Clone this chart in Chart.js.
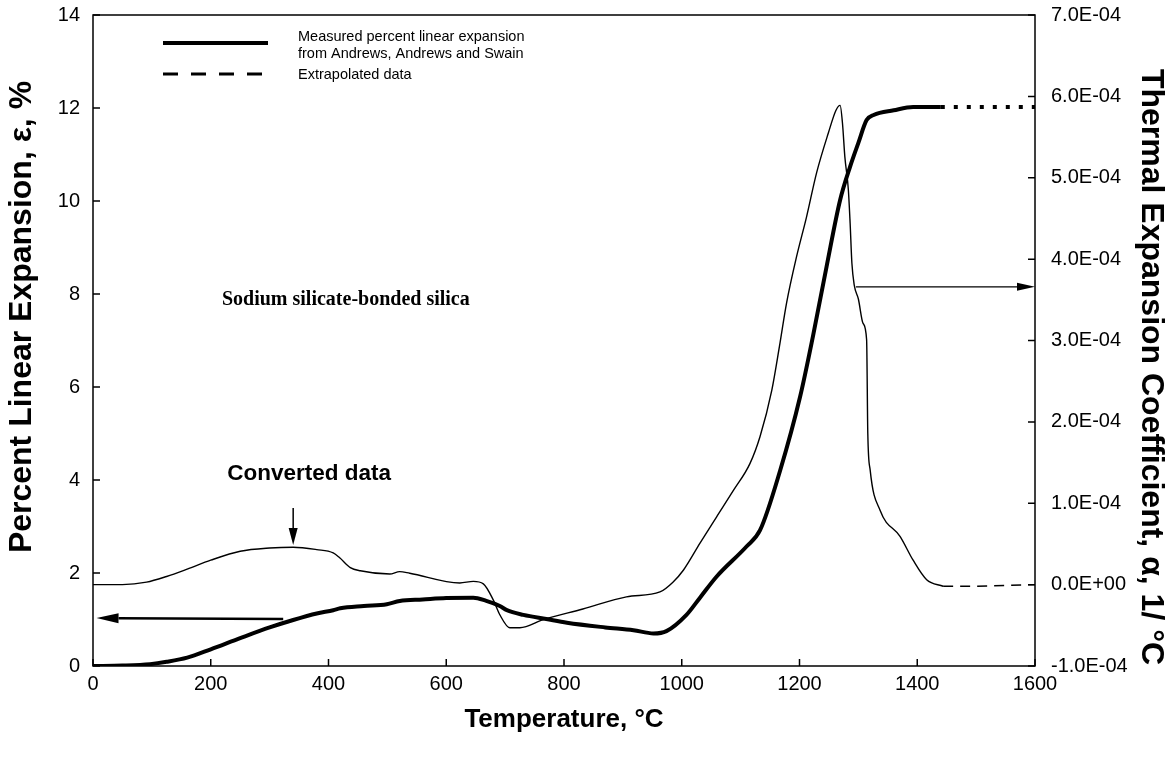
<!DOCTYPE html>
<html>
<head>
<meta charset="utf-8">
<title>Sodium silicate-bonded silica</title>
<script src="https://cdn.jsdelivr.net/npm/chart.js@4.4.1/dist/chart.umd.min.js"></script>
<style>
  html, body { margin: 0; padding: 0; background: #fff; }
  canvas { display: block; }
</style>
</head>
<body>
<canvas id="grafico" width="1172" height="763"></canvas>
<script>
// Expansión lineal medida (Andrews, Andrews y Swain), eje izquierdo en %
const tempMedida = [0, 50, 97, 125, 160, 200, 250, 300, 340, 380, 408, 420, 460, 499, 521, 560, 600, 646, 668, 691, 703, 731, 770, 805, 870, 918, 952, 974, 1008, 1031, 1059, 1110, 1133, 1167, 1201, 1223, 1246, 1269, 1286, 1300, 1314, 1326, 1360, 1393, 1440];
const expansionMedida = [0, 0.01, 0.04, 0.09, 0.18, 0.36, 0.60, 0.83, 0.99, 1.13, 1.20, 1.24, 1.29, 1.33, 1.40, 1.43, 1.46, 1.47, 1.40, 1.29, 1.20, 1.10, 1.01, 0.93, 0.83, 0.77, 0.70, 0.75, 1.10, 1.47, 1.92, 2.57, 2.92, 4.20, 5.79, 7.10, 8.59, 10.02, 10.74, 11.25, 11.74, 11.85, 11.95, 12.02, 12.02];

// Expansión extrapolada
const tempExtrapolada = [1440, 1600];
const expansionExtrapolada = [12.02, 12.02];

// Coeficiente de expansión térmica convertido, eje derecho (valores en unidades de 1E-04 1/°C)
const tempAlfa = [0, 50, 91, 125, 160, 200, 250, 300, 340, 380, 408, 419, 437, 454, 504, 521, 538, 623, 646, 663, 680, 691, 708, 725, 765, 832, 906, 963, 985, 1003, 1031, 1059, 1088, 1116, 1133, 1153, 1166, 1178, 1195, 1212, 1229, 1249, 1262, 1269, 1273, 1277, 1283, 1286, 1289, 1293, 1300, 1308, 1314, 1316, 1320, 1337, 1371, 1393, 1416, 1444];
const alfaE4 = [0, 0, 0.03, 0.10, 0.19, 0.30, 0.41, 0.45, 0.46, 0.43, 0.39, 0.33, 0.21, 0.17, 0.13, 0.16, 0.14, 0.02, 0.04, 0.01, -0.19, -0.37, -0.53, -0.53, -0.43, -0.30, -0.15, -0.09, 0.03, 0.18, 0.51, 0.83, 1.16, 1.49, 1.82, 2.39, 2.93, 3.46, 4.03, 4.52, 5.06, 5.55, 5.83, 5.89, 5.67, 5.26, 4.85, 4.44, 3.95, 3.68, 3.51, 3.21, 3.01, 1.86, 1.41, 0.91, 0.59, 0.30, 0.06, -0.02];

// Coeficiente extrapolado
const tempAlfaExtrapolada = [1444, 1500, 1550, 1600];
const alfaExtrapoladaE4 = [-0.02, -0.02, -0.01, 0.00];

// Marcas de los ejes
const ticksTemperatura = [0, 200, 400, 600, 800, 1000, 1200, 1400, 1600];
const ticksExpansion = [0, 2, 4, 6, 8, 10, 12, 14];
const ticksAlfa = [-1e-4, 0, 1e-4, 2e-4, 3e-4, 4e-4, 5e-4, 6e-4, 7e-4];
const etiquetasAlfa = ['-1.0E-04', '0.0E+00', '1.0E-04', '2.0E-04', '3.0E-04', '4.0E-04', '5.0E-04', '6.0E-04', '7.0E-04'];

const puntos = (xs, ys, factor = 1) => xs.map((t, i) => ({ x: t, y: ys[i] * factor }));

// Flechas y textos, en coordenadas de datos
const flechas = [
  { eje: 'y', desde: [323, 1.01], hasta: [6, 1.03], grosor: 2.5, punta: 22, ancho: 5 },
  { eje: 'y2', desde: [1296, 3.66e-4], hasta: [1600, 3.66e-4], grosor: 1.2, punta: 18, ancho: 4 },
  { eje: 'y', desde: [340, 3.40], hasta: [340, 2.60], grosor: 1.5, punta: 17, ancho: 4.5 }
];

const textos = [
  { texto: 'Converted data', x: 367, y: 4.13, font: 'bold 22.5px "Liberation Sans", Arial, sans-serif', align: 'center' },
  { texto: 'Sodium silicate-bonded silica', x: 219, y: 7.87, font: 'bold 20px "Liberation Serif", "Times New Roman", serif', align: 'left' }
];

const fuente = '"Liberation Sans", Arial, Helvetica, sans-serif';
Chart.defaults.font.family = fuente;
Chart.defaults.color = '#000';

function dibujarFlecha(ctx, escalaX, escalaY, f) {
  const x0 = escalaX.getPixelForValue(f.desde[0]);
  const y0 = escalaY.getPixelForValue(f.desde[1]);
  const x1 = escalaX.getPixelForValue(f.hasta[0]);
  const y1 = escalaY.getPixelForValue(f.hasta[1]);
  const ang = Math.atan2(y1 - y0, x1 - x0);
  const bx = x1 - f.punta * Math.cos(ang);
  const by = y1 - f.punta * Math.sin(ang);
  ctx.lineWidth = f.grosor;
  ctx.beginPath();
  ctx.moveTo(x0, y0);
  ctx.lineTo(bx, by);
  ctx.stroke();
  ctx.beginPath();
  ctx.moveTo(x1, y1);
  ctx.lineTo(bx + f.ancho * Math.sin(ang), by - f.ancho * Math.cos(ang));
  ctx.lineTo(bx - f.ancho * Math.sin(ang), by + f.ancho * Math.cos(ang));
  ctx.closePath();
  ctx.fill();
}

// Título vertical dibujado a mano (no va centrado en el eje)
function tituloVertical(ctx, texto, x, y, giro) {
  ctx.save();
  ctx.translate(x, y);
  ctx.rotate(giro);
  ctx.font = 'bold 32px ' + fuente;
  ctx.textAlign = 'center';
  ctx.textBaseline = 'middle';
  ctx.fillText(texto, 0, 0);
  ctx.restore();
}

// Fija el tamaño de cada eje y quita el relleno que Chart.js añade por las etiquetas
const fijarTamano = (ancho, alto) => s => {
  if (ancho) s.width = ancho;
  if (alto) s.height = alto;
  s.paddingTop = 0;
  s.paddingBottom = 0;
  s.paddingLeft = 0;
  s.paddingRight = 0;
};

const marcoYAnotaciones = {
  id: 'marcoYAnotaciones',
  afterDraw(chart) {
    const { ctx, chartArea: a, scales } = chart;
    const { x, y, y2 } = scales;
    ctx.save();
    ctx.strokeStyle = '#000';
    ctx.fillStyle = '#000';

    // Marco del área
    ctx.lineWidth = 1.5;
    ctx.strokeRect(a.left, a.top, a.right - a.left, a.bottom - a.top);

    // Marcas hacia dentro
    ctx.beginPath();
    ticksTemperatura.forEach(v => {
      const px = x.getPixelForValue(v);
      ctx.moveTo(px, a.bottom);
      ctx.lineTo(px, a.bottom - 7);
    });
    ticksExpansion.forEach(v => {
      const py = y.getPixelForValue(v);
      ctx.moveTo(a.left, py);
      ctx.lineTo(a.left + 7, py);
    });
    ticksAlfa.forEach(v => {
      const py = y2.getPixelForValue(v);
      ctx.moveTo(a.right, py);
      ctx.lineTo(a.right - 7, py);
    });
    ctx.stroke();

    // Flechas
    flechas.forEach(f => dibujarFlecha(ctx, x, scales[f.eje], f));

    // Textos dentro del gráfico
    ctx.textBaseline = 'middle';
    textos.forEach(t => {
      ctx.font = t.font;
      ctx.textAlign = t.align;
      ctx.fillText(t.texto, x.getPixelForValue(t.x), y.getPixelForValue(t.y));
    });

    // Leyenda
    ctx.lineWidth = 4;
    ctx.beginPath();
    ctx.moveTo(163, 43);
    ctx.lineTo(268, 43);
    ctx.stroke();
    ctx.lineWidth = 3;
    ctx.setLineDash([15, 13]);
    ctx.beginPath();
    ctx.moveTo(163, 74);
    ctx.lineTo(268, 74);
    ctx.stroke();
    ctx.setLineDash([]);
    ctx.font = '14.5px ' + fuente;
    ctx.textAlign = 'left';
    ctx.fillText('Measured percent linear expansion', 298, 37);
    ctx.fillText('from Andrews, Andrews and Swain', 298, 54);
    ctx.fillText('Extrapolated data', 298, 75);

    // Títulos de los ejes verticales
    tituloVertical(ctx, 'Percent Linear Expansion, \u03b5, %', 22, 317, -Math.PI / 2);
    tituloVertical(ctx, 'Thermal Expansion Coefficient, \u03b1, 1/ \u00b0C', 1151, 367, Math.PI / 2);
    ctx.restore();
  }
};

const grafico = new Chart(document.getElementById('grafico'), {
  type: 'line',
  data: {
    datasets: [
      {
        label: 'Measured percent linear expansion',
        data: puntos(tempMedida, expansionMedida),
        yAxisID: 'y',
        borderColor: '#000',
        borderWidth: 4,
        cubicInterpolationMode: 'monotone',
        pointRadius: 0
      },
      {
        label: 'Extrapolated data',
        data: puntos(tempExtrapolada, expansionExtrapolada),
        yAxisID: 'y',
        borderColor: '#000',
        borderWidth: 4,
        borderDash: [4, 9],
        pointRadius: 0
      },
      {
        label: 'Converted data',
        data: puntos(tempAlfa, alfaE4, 1e-4),
        yAxisID: 'y2',
        borderColor: '#000',
        borderWidth: 1.4,
        cubicInterpolationMode: 'monotone',
        pointRadius: 0
      },
      {
        label: 'Converted data (extrapolated)',
        data: puntos(tempAlfaExtrapolada, alfaExtrapoladaE4, 1e-4),
        yAxisID: 'y2',
        borderColor: '#000',
        borderWidth: 1.4,
        borderDash: [10, 7],
        pointRadius: 0
      }
    ]
  },
  options: {
    responsive: false,
    animation: false,
    devicePixelRatio: 1,
    layout: { padding: { top: 15, left: 0, right: 0, bottom: 0 } },
    plugins: {
      legend: { display: false },
      tooltip: { enabled: false }
    },
    scales: {
      x: {
        type: 'linear',
        min: 0,
        max: 1600,
        afterBuildTicks: s => { s.ticks = ticksTemperatura.map(v => ({ value: v })); },
        afterFit: fijarTamano(null, 97),
        grid: { display: false, drawTicks: false },
        border: { display: false },
        ticks: { font: { size: 20 }, padding: 6, maxRotation: 0, callback: v => String(v) },
        title: {
          display: true,
          text: 'Temperature, \u00b0C',
          font: { size: 26, weight: 'bold' },
          padding: { top: 0, bottom: 28 }
        }
      },
      y: {
        position: 'left',
        min: 0,
        max: 14,
        afterBuildTicks: s => { s.ticks = ticksExpansion.map(v => ({ value: v })); },
        afterFit: fijarTamano(93, null),
        grid: { display: false, drawTicks: false },
        border: { display: false },
        ticks: { font: { size: 20 }, padding: 13, callback: v => String(v) }
      },
      y2: {
        position: 'right',
        min: -1e-4,
        max: 7e-4,
        afterBuildTicks: s => { s.ticks = ticksAlfa.map(v => ({ value: v })); },
        afterFit: fijarTamano(137, null),
        grid: { display: false, drawTicks: false },
        border: { display: false },
        ticks: {
          font: { size: 20 },
          padding: 16,
          callback: (v, i) => etiquetasAlfa[i]
        }
      }
    }
  },
  plugins: [marcoYAnotaciones]
});
</script>
</body>
</html>
